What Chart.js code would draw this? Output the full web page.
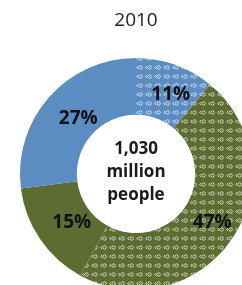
<!DOCTYPE html>
<html>
<head>
<meta charset="utf-8">
<script src="https://cdn.jsdelivr.net/npm/chart.js@4.4.1/dist/chart.umd.min.js"></script>
<style>
  html, body { margin: 0; padding: 0; background: #fff; overflow: hidden; width: 242px; height: 285px; }
  #wrap { position: absolute; left: 0; top: 0; width: 260px; height: 300px; }
</style>
</head>
<body>
<div id="wrap"><canvas id="c" width="260" height="300"></canvas></div>
<script>
// ---- data ----
const titleText = '2010';
const categories = ['11%', '47%', '15%', '27%'];
const shares = [11, 47, 15, 27];
const centerLines = ['1,030', 'million', 'people'];

// ---- styles ----
const BLUE = '#5b8dc3';
const GREEN = '#5d6d31';

function makePattern(base) {
  const t = document.createElement('canvas');
  t.width = 9; t.height = 9;
  const g = t.getContext('2d');
  g.fillStyle = base;
  g.fillRect(0, 0, 9, 9);
  g.strokeStyle = 'rgba(255,255,255,0.75)';
  g.lineWidth = 0.9;
  g.beginPath();
  g.arc(5.6, 4.5, 1.7, 0, Math.PI * 2);
  g.stroke();
  g.beginPath();
  g.moveTo(3.0, 3.0);
  g.lineTo(1.6, 4.5);
  g.lineTo(3.0, 6.0);
  g.stroke();
  const ctx = document.getElementById('c').getContext('2d');
  return ctx.createPattern(t, 'repeat');
}

const fills = [makePattern(BLUE), makePattern(GREEN), GREEN, BLUE];

const labelPlugin = {
  id: 'labels',
  afterDatasetsDraw(chart) {
    const ctx = chart.ctx;
    const meta = chart.getDatasetMeta(0);
    ctx.save();
    ctx.fillStyle = '#111';
    ctx.textAlign = 'center';
    ctx.textBaseline = 'middle';
    ctx.font = 'bold 19px "Open Sans"';
    meta.data.forEach((arc, i) => {
      const mid = (arc.startAngle + arc.endAngle) / 2;
      const r = (arc.innerRadius + arc.outerRadius) / 2 * 0.97;
      ctx.fillText(categories[i], arc.x + Math.cos(mid) * r + 6, arc.y + Math.sin(mid) * r + 1);
    });
    const cx = meta.data[0].x, cy = meta.data[0].y;
    ctx.fillStyle = '#1a1a1a';
    ctx.font = 'bold 17px "Open Sans"';
    const lh = 23;
    centerLines.forEach((s, i) => {
      ctx.fillText(s, cx, cy + (i - 1) * lh - 2);
    });
    ctx.restore();
  }
};

new Chart(document.getElementById('c'), {
  type: 'doughnut',
  data: {
    labels: categories,
    datasets: [{
      data: shares,
      backgroundColor: fills,
      borderWidth: 0,
      hoverOffset: 0
    }]
  },
  options: {
    responsive: false,
    animation: false,
    cutout: '51%',
    layout: { padding: { left: 20, right: 8, top: 0, bottom: 10 } },
    plugins: {
      legend: { display: false },
      tooltip: { enabled: false },
      title: {
        display: true,
        text: titleText,
        color: '#222',
        font: { family: '"Open Sans"', size: 19, weight: 'normal', lineHeight: 1.2 },
        padding: { top: 9, bottom: 26 }
      }
    }
  },
  plugins: [labelPlugin]
});
</script>
</body>
</html>
